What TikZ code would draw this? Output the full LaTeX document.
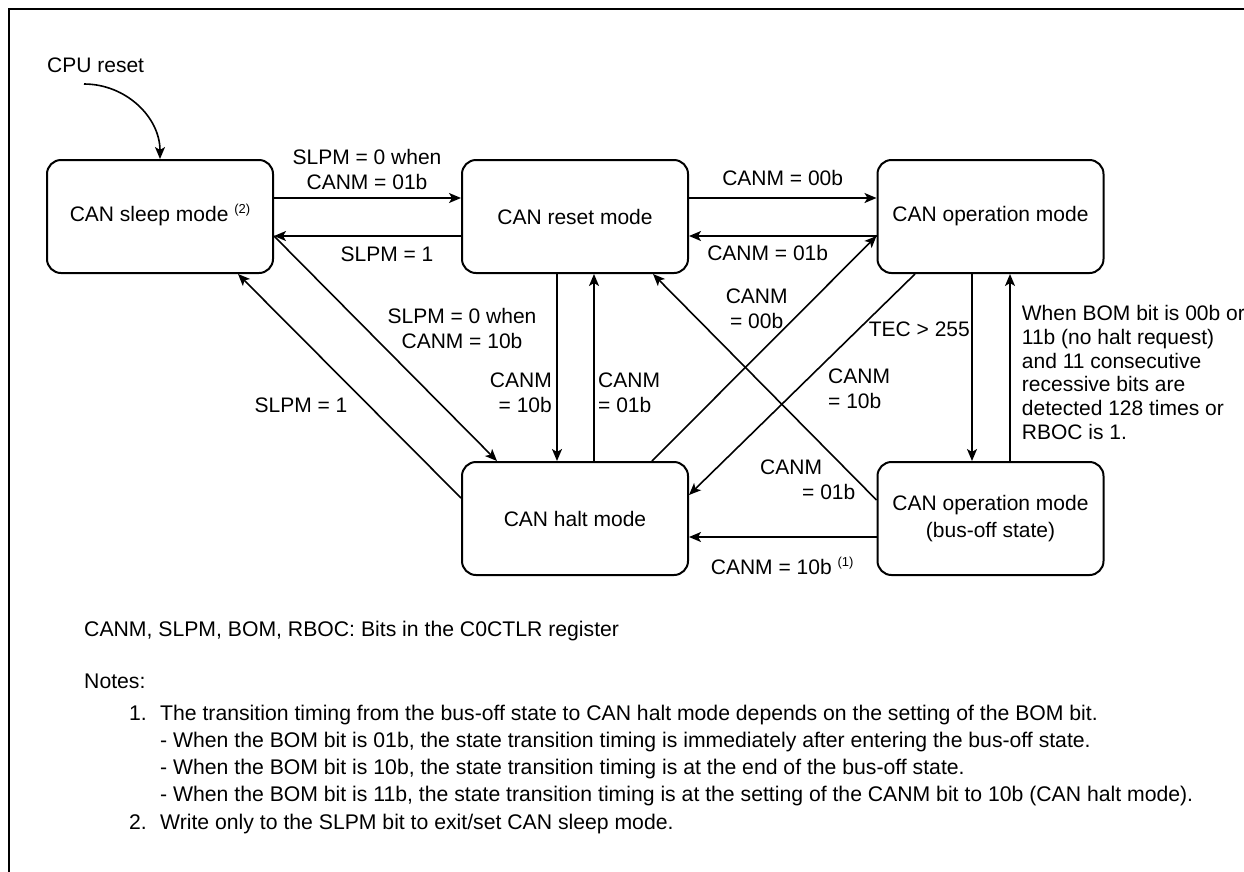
\documentclass[tikz,border=0pt]{standalone}
\usepackage{fontspec}
\setmainfont{Liberation Sans}
\usetikzlibrary{arrows.meta}
\newcommand\noteref[1]{\smash{\raisebox{8pt}{\fontsize{13}{13}\selectfont(#1)}}}
\begin{document}
\begin{tikzpicture}[x=1pt,y=-1pt,
  state/.style={draw, line width=2pt, rounded corners=14pt, minimum width=226pt, minimum height=113pt, align=center, inner sep=0pt, font=\fontsize{21}{27}\selectfont},
  conn/.style={line width=1.6pt, -{Stealth[length=12pt,width=10pt,inset=3pt]}},
  lbl/.style={inner sep=0pt, font=\fontsize{21}{25}\selectfont},
  note/.style={inner sep=0pt, anchor=base west, font=\fontsize{21.2}{25}\selectfont}]
\useasboundingbox (0,0) rectangle (1244,871);
\clip (0,0) rectangle (1244,871);
\draw[line width=2.5pt] (1260,9) -- (9,9) -- (9,890);

\node[state] (sleep) at (160,216.5) {CAN sleep mode \noteref{2}};
\node[state] (reset) at (575,216.5) {CAN reset mode};
\node[state] (oper) at (990.5,216.5) {CAN operation mode};
\node[state] (halt) at (575,518.5) {CAN halt mode};
\node[state] (busoff) at (990.5,518.5) {CAN operation mode\\(bus-off state)};

\node[lbl, anchor=west] (cpu) at (47,65) {CPU reset};
\coordinate (cpustart) at (84,84);
\draw[conn] (cpustart) to[out=0,in=90] (sleep.north);

\draw[conn] ([yshift=18.5pt]sleep.east) -- ([yshift=18.5pt]reset.west);
\draw[conn] ([yshift=-19.5pt]reset.west) -- ([yshift=-19.5pt]sleep.east);
\draw[conn] ([yshift=18.5pt]reset.east) -- ([yshift=18.5pt]oper.west);
\draw[conn] ([yshift=-19.5pt]oper.west) -- ([yshift=-19.5pt]reset.east);
\draw[conn] ([xshift=-18pt]reset.south) -- ([xshift=-18pt]halt.north);
\draw[conn] ([xshift=19pt]halt.north) -- ([xshift=19pt]reset.south);
\draw[conn] ([xshift=77pt]halt.north) -- ([yshift=-19.5pt]oper.west);
\draw[conn] ([xshift=-75.5pt]oper.south) -- ([yshift=23.5pt]halt.east);
\draw[conn] ([xshift=-18.5pt]oper.south) -- ([xshift=-18.5pt]busoff.north);
\draw[conn] ([xshift=19.5pt]busoff.north) -- ([xshift=19.5pt]oper.south);
\draw[conn] ([yshift=18.5pt]busoff.west) -- ([xshift=78pt]reset.south);
\draw[conn] ([yshift=-18.5pt]busoff.west) -- ([yshift=-18.5pt]halt.east);
\draw[conn] ([yshift=-19.5pt]sleep.east) -- ([xshift=-78pt]halt.north);
\draw[conn] ([yshift=20.5pt]halt.west) -- ([xshift=78pt]sleep.south);

\node[lbl, align=center] (l1) at (367,169) {SLPM = 0 when\\CANM = 01b};
\node[lbl] (l2) at (387,254) {SLPM = 1};
\node[lbl] (l3) at (782.7,177.7) {CANM = 00b};
\node[lbl] (l4) at (767.7,253) {CANM = 01b};
\node[lbl, align=right, anchor=east] (l5) at (552,392.5) {CANM\\= 10b};
\node[lbl, align=left, anchor=west] (l6) at (598,392.5) {CANM\\= 01b};
\node[lbl, align=center] (l7) at (756.7,309) {CANM\\= 00b};
\node[lbl, align=left, anchor=west] (l8) at (828,389) {CANM\\= 10b};
\node[lbl, anchor=east] (l9) at (970,329) {TEC > 255};
\node[lbl, align=left, anchor=west, font=\fontsize{21}{23.7}\selectfont] (l10) at (1021.7,372.4) {When BOM bit is 00b or\\11b (no halt request)\\and 11 consecutive\\recessive bits are\\detected 128 times or\\RBOC is 1.};
\node[lbl, align=left, anchor=west] (l11) at (760,479.7) {CANM\\\hspace*{42pt}= 01b};
\node[lbl, anchor=west] (l12) at (710.7,566.7) {CANM = 10b \noteref{1}};
\node[lbl, align=center] (l13) at (462,328.4) {SLPM = 0 when\\CANM = 10b};
\node[lbl] (l14) at (301,405) {SLPM = 1};

\node[note] (n0) at (84,636.5) {CANM, SLPM, BOM, RBOC: Bits in the C0CTLR register};
\node[note] (n1) at (84,688.5) {Notes:};
\node[note] (n2a) at (129,720.5) {1.};
\node[note] (n2) at (160,720.5) {The transition timing from the bus-off state to CAN halt mode depends on the setting of the BOM bit.};
\node[note] (n3) at (160,747.5) {- When the BOM bit is 01b, the state transition timing is immediately after entering the bus-off state.};
\node[note] (n4) at (160,774.5) {- When the BOM bit is 10b, the state transition timing is at the end of the bus-off state.};
\node[note] (n5) at (160,801.5) {- When the BOM bit is 11b, the state transition timing is at the setting of the CANM bit to 10b (CAN halt mode).};
\node[note] (n6a) at (129,829) {2.};
\node[note] (n6) at (160,829) {Write only to the SLPM bit to exit/set CAN sleep mode.};
\end{tikzpicture}
\end{document}
